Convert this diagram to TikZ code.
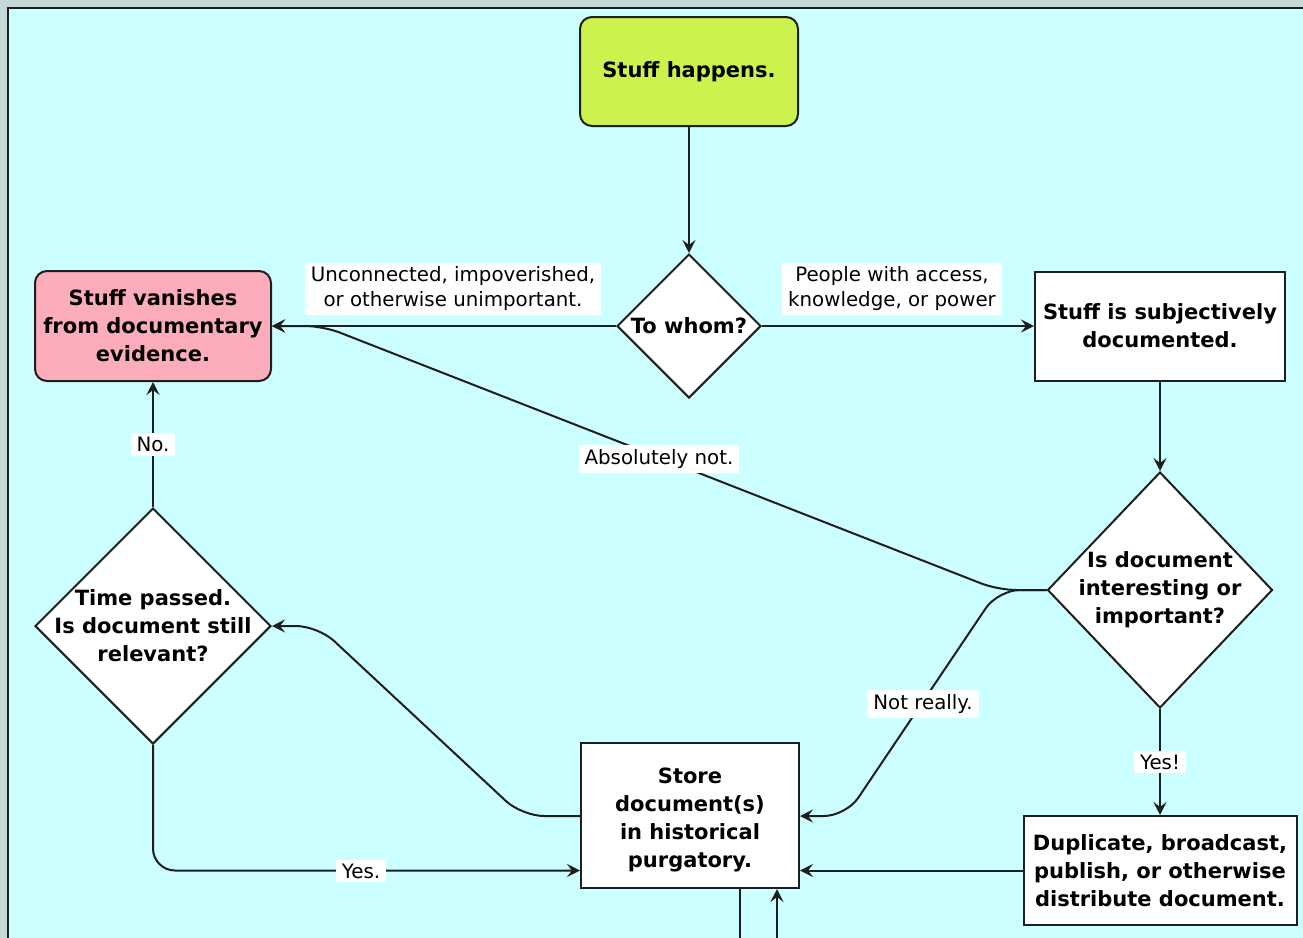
\documentclass[tikz,border=0pt]{standalone}
\usepackage{fontspec}
\setmainfont{DejaVu Sans}
\usetikzlibrary{shapes.geometric,arrows.meta,calc}
\definecolor{outerbg}{HTML}{C4D8D8}
\definecolor{innerbg}{HTML}{CCFFFF}
\definecolor{lime}{HTML}{CCF24E}
\definecolor{pinkbox}{HTML}{FCACBA}
\definecolor{ink}{HTML}{1E1E1E}
\tikzset{
  boxtext/.style={font=\fontsize{10.5pt}{14pt}\selectfont\bfseries, align=center},
  procbox/.style={rectangle, draw=ink, line width=1pt, fill=white, inner sep=0pt, boxtext},
  roundbox/.style={procbox, rounded corners=6pt},
  decision/.style={diamond, draw=ink, line width=1pt, fill=white, inner sep=0pt},
  conn/.style={draw=ink, line width=1pt, -{Stealth[length=6.5pt,width=6.5pt,inset=2.5pt]}},
  plain/.style={draw=ink, line width=1pt},
  edgelabel/.style={fill=white, inner xsep=3pt, inner ysep=2pt, font=\fontsize{9.9pt}{12.5pt}\selectfont, align=center},
}
\begin{document}
\begin{tikzpicture}[x=0.5pt,y=-0.5pt]
\useasboundingbox (0,0) rectangle (1303,938);
\fill[outerbg] (0,0) rectangle (1303,938);
\fill[innerbg] (8,8) rectangle (1310,945);
\draw[ink, line width=1pt] (8,945) -- (8,8) -- (1310,8);

% nodes
\node[roundbox, fill=lime, minimum width=109pt, minimum height=54.5pt] (happ) at (689,71.5) {Stuff happens.};
\node[decision, minimum width=72pt, minimum height=72pt,
      label={[boxtext]center:To whom?}] (whom) at (689,326) {};
\node[roundbox, fill=pinkbox, minimum width=118pt, minimum height=55pt] (van) at (153,326)
      {Stuff vanishes\\from documentary\\evidence.};
\node[procbox, minimum width=125pt, minimum height=54.5pt] (subj) at (1160,326)
      {Stuff is subjectively\\documented.};
\node[decision, minimum width=112.5pt, minimum height=118pt,
      label={[boxtext]center:Is document\\interesting or\\important?}] (intr) at (1160,590) {};
\node[decision, minimum width=118pt, minimum height=118pt,
      label={[boxtext]center:Time passed.\\Is document still\\relevant?}] (time) at (153,626) {};
\node[procbox, minimum width=109pt, minimum height=72.5pt,
      label={[boxtext, yshift=-2pt]center:Store\\document(s)\\in historical\\purgatory.}] (store) at (690,815.5) {};
\node[procbox, minimum width=136.5pt, minimum height=54.5pt] (dup) at (1160,870.5)
      {Duplicate, broadcast,\\publish, or otherwise\\distribute document.};

\coordinate (abscorner) at (323,326);
\coordinate (split) at (998,590);
\coordinate (nrcorner) at (846,816);
\coordinate (stcorner) at (522,816);
\coordinate (tmcorner) at (318,626);
\coordinate (outdown) at (740,945);
\coordinate (indown) at (777,945);

% connectors
\draw[conn] (happ) -- (whom);
\draw[conn] (whom.west) -- (van.east);
\node[edgelabel] (lab1) at (453,289) {Unconnected, impoverished,\\or otherwise unimportant.};
\draw[conn] (whom.east) -- (subj.west);
\node[edgelabel] (lab2) at (892,289) {People with access,\\knowledge, or power};
\draw[conn] (subj) -- (intr);
\draw[conn, rounded corners=9pt] (intr.west) -- (split) -- (abscorner) -- (van.east);
\node[edgelabel] (lab3) at (659,459) {Absolutely not.};
\draw[conn, rounded corners=11pt] (intr.west) -- (split) -- (nrcorner) -- (store.east |- nrcorner);
\node[edgelabel] (lab4) at (923,704) {Not really.};
\draw[conn] (intr.south) -- (dup.north) node[edgelabel, midway] (lab5) {Yes!};
\draw[conn] (dup.west) -- (store.east |- dup.west);
\draw[conn, rounded corners=11pt] (store.west |- stcorner) -- (stcorner) -- (tmcorner) -- (time.east);
\draw[conn] (time.north) -- (van.south) node[edgelabel, midway] (lab6) {No.};
\draw[conn, rounded corners=11pt] (time.south) |- (store.west |- dup.west);
\node[edgelabel] (lab7) at (361,871) {Yes.};
\draw[plain] (store.south -| outdown) -- (outdown);
\draw[conn] (indown) -- (store.south -| indown);
\end{tikzpicture}
\end{document}
